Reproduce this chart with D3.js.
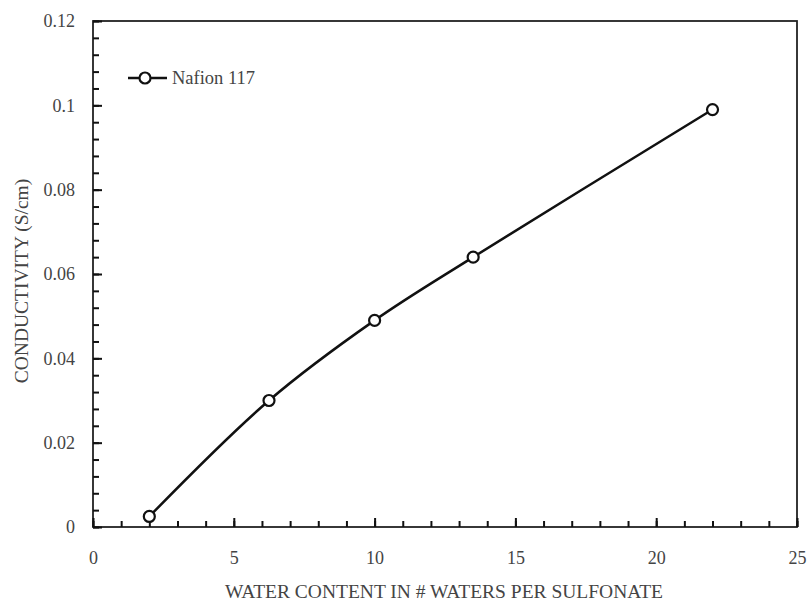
<!DOCTYPE html>
<html>
<head>
<meta charset="utf-8">
<script src="https://cdn.jsdelivr.net/npm/d3@7"></script>
<style>
  body { margin: 0; background: #fff; }
  text { font-family: "Liberation Serif", "DejaVu Serif", serif; fill: #444; }
</style>
</head>
<body>
<div id="chart"></div>
<script>
// Nafion 117 conductivity vs water content
const waterContent = [2, 6.25, 10, 13.5, 22];
const conductivity = [0.0025, 0.030, 0.049, 0.064, 0.099];
const seriesName = "Nafion 117";
const xTicks = [0, 5, 10, 15, 20, 25];
const yTicks = [0, 0.02, 0.04, 0.06, 0.08, 0.1, 0.12];

const width = 807, height = 603;
const margin = { top: 21, right: 10, bottom: 76, left: 93 };

const svg = d3.select("#chart").append("svg")
  .attr("width", width)
  .attr("height", height);

const x = d3.scaleLinear().domain([0, 25]).range([margin.left, 797]);
const y = d3.scaleLinear().domain([0, 0.12]).range([527, margin.top]);

const xMinor = d3.range(0, 26, 1);
const yMinor = d3.range(0, 31, 1).map(v => v * 0.004);

// frame
svg.append("rect")
  .attr("x", x(0)).attr("y", y(0.12))
  .attr("width", x(25) - x(0)).attr("height", y(0) - y(0.12))
  .attr("fill", "none").attr("stroke", "#222").attr("stroke-width", 1.8);

function styleTicks(g) {
  g.select(".domain").remove();
  g.selectAll(".tick line").attr("stroke", "#111").attr("stroke-width", 2);
}

// minor ticks point inward
svg.append("g")
  .attr("transform", `translate(0,${y(0)})`)
  .call(d3.axisBottom(x).tickValues(xMinor).tickSize(-6).tickFormat(""))
  .call(styleTicks);

svg.append("g")
  .attr("transform", `translate(${x(0)},0)`)
  .call(d3.axisLeft(y).tickValues(yMinor).tickSize(-6).tickFormat(""))
  .call(styleTicks);

// major ticks with labels
svg.append("g")
  .attr("transform", `translate(0,${y(0)})`)
  .call(d3.axisBottom(x).tickValues(xTicks).tickSize(-9).tickPadding(24).tickFormat(d3.format("d")))
  .call(styleTicks)
  .call(g => g.selectAll("text").attr("fill", "#444").style("font-size", "18px")
    .style("font-family", "Liberation Serif"));

svg.append("g")
  .attr("transform", `translate(${x(0)},0)`)
  .call(d3.axisLeft(y).tickValues(yTicks).tickSize(-9).tickPadding(18).tickFormat(d3.format("~g")))
  .call(styleTicks)
  .call(g => g.selectAll("text").attr("fill", "#444").style("font-size", "18px")
    .style("font-family", "Liberation Serif"));

// axis titles
svg.append("text")
  .attr("x", 444).attr("y", 598)
  .attr("text-anchor", "middle")
  .style("font-size", "19.5px")
  .text("WATER CONTENT IN # WATERS PER SULFONATE");

svg.append("text")
  .attr("transform", `translate(28,281) rotate(-90)`)
  .attr("text-anchor", "middle")
  .style("font-size", "19.5px")
  .text("CONDUCTIVITY (S/cm)");

// series
const pts = waterContent.map((w, i) => [w, conductivity[i]]);
const line = d3.line()
  .x(d => x(d[0]))
  .y(d => y(d[1]))
  .curve(d3.curveCatmullRom.alpha(0.5));

svg.append("path")
  .datum(pts)
  .attr("d", line)
  .attr("fill", "none")
  .attr("stroke", "#111")
  .attr("stroke-width", 2.5);

svg.append("g")
  .selectAll("circle")
  .data(pts)
  .join("circle")
  .attr("cx", d => x(d[0]))
  .attr("cy", d => y(d[1]))
  .attr("r", 5.5)
  .attr("fill", "#fff")
  .attr("stroke", "#111")
  .attr("stroke-width", 2.2);

// legend
const lg = svg.append("g").attr("transform", "translate(128,78)");
lg.append("line")
  .attr("x1", 0).attr("x2", 39)
  .attr("stroke", "#111").attr("stroke-width", 2.5);
lg.append("circle")
  .attr("cx", 17).attr("r", 5.5)
  .attr("fill", "#fff").attr("stroke", "#111").attr("stroke-width", 2.2);
lg.append("text")
  .attr("x", 44).attr("y", 6)
  .style("font-size", "18.5px")
  .text(seriesName);
</script>
</body>
</html>
